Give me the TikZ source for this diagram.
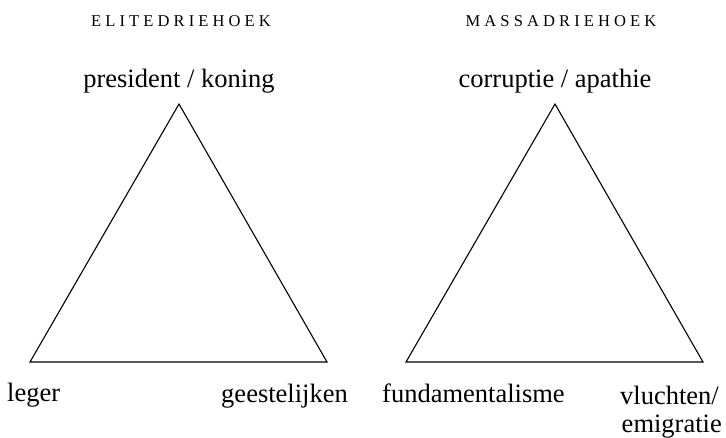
\documentclass[tikz,border=0pt]{standalone}
\usepackage{fontspec}
\setmainfont{Liberation Serif}
\newfontfamily\titlefont[LetterSpace=25]{Liberation Serif}
\begin{document}
\begin{tikzpicture}[x=1pt,y=-1pt,
  lbl/.style={font=\fontsize{26.5}{28}\selectfont, inner sep=0pt},
  ttl/.style={font=\titlefont\fontsize{16.5}{18}\selectfont, inner sep=0pt, anchor=base},
  tri/.style={draw, line width=1.1pt, line join=miter}]
\useasboundingbox (0,0) rectangle (726,437);
% left triangle
\coordinate (LT) at (179,104);
\coordinate (LL) at (30,362);
\coordinate (LR) at (327,362);
\draw[tri] (LT) -- (LL) -- (LR) -- cycle;
% right triangle
\coordinate (RT) at (555,104);
\coordinate (RL) at (406,362);
\coordinate (RR) at (703,362);
\draw[tri] (RT) -- (RL) -- (RR) -- cycle;
% titles
\node[ttl] (t1) at (181,26) {ELITEDRIEHOEK};
\node[ttl] (t2) at (561,26) {MASSADRIEHOEK};
% labels
\node[lbl, anchor=base] (pk) at (179,87) {president / koning};
\node[lbl, anchor=base] (ca) at (555,87) {corruptie / apathie};
\node[lbl, anchor=base west] (lg) at (7,401) {leger};
\node[lbl, anchor=base east] (gs) at (348,402) {geestelijken};
\node[lbl, anchor=base west] (fd) at (382,402) {fundamentalisme};
\node[lbl, anchor=base east] (vl) at (719,404) {vluchten/};
\node[lbl, anchor=base east] (em) at (722,432) {emigratie};
\end{tikzpicture}
\end{document}
